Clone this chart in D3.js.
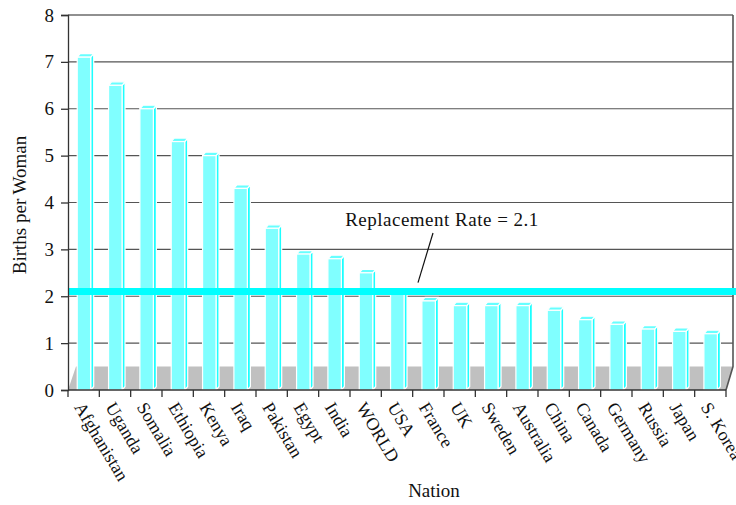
<!DOCTYPE html>
<html>
<head>
<meta charset="utf-8">
<script src="https://cdn.jsdelivr.net/npm/d3@7"></script>
<style>
  html, body { margin: 0; padding: 0; background: #fff; }
  svg { display: block; font-family: "Liberation Serif", "Times New Roman", serif; }
</style>
</head>
<body>
<svg id="chart" width="736" height="505"></svg>
<script>
// Total fertility rate by nation
const nations = ["Afghanistan", "Uganda", "Somalia", "Ethiopia", "Kenya", "Iraq", "Pakistan",
  "Egypt", "India", "WORLD", "USA", "France", "UK", "Sweden", "Australia", "China",
  "Canada", "Germany", "Russia", "Japan", "S. Korea"];
const births = [7.1, 6.5, 6.0, 5.3, 5.0, 4.3, 3.45, 2.9, 2.8, 2.5, 2.1, 1.9, 1.8, 1.8, 1.8, 1.7,
  1.5, 1.4, 1.3, 1.25, 1.2];
const yTicks = [0, 1, 2, 3, 4, 5, 6, 7, 8];
const replacementRate = 2.1;
const replacementLabel = "Replacement Rate = 2.1";
const xTitle = "Nation";
const yTitle = "Births per Woman";

const svg = d3.select("#chart");

// plot geometry: front plane, plus a shallow floor drawn in depth
const plotLeft = 68, plotRight = 726, plotTop = 15, plotBottom = 390;
const depthX = 7, floorValue = 0.5;   // floor recedes to the back wall
const wallRight = plotRight + depthX;

const x = d3.scaleBand().domain(nations).range([plotLeft, plotRight]).padding(0);
const y = d3.scaleLinear().domain([0, 8]).range([plotBottom, plotTop]);

const floorTop = y(floorValue);

// floor
svg.append("path")
  .attr("d", `M${plotLeft},${plotBottom} L${plotLeft + 8},${floorTop} L${wallRight},${floorTop} L${plotRight},${plotBottom} Z`)
  .attr("fill", "#c0c0c0");

// horizontal gridlines
svg.append("g")
  .selectAll("line")
  .data(yTicks.filter(t => t > 0))
  .join("line")
  .attr("x1", plotLeft).attr("x2", wallRight)
  .attr("y1", d => y(d)).attr("y2", d => y(d))
  .attr("stroke", d => d === 8 ? "#222" : "#555")
  .attr("stroke-width", 1.2);

// right wall edge
svg.append("path")
  .attr("d", `M${wallRight},${plotTop} L${wallRight},${floorTop} L${plotRight},${plotBottom}`)
  .attr("fill", "none")
  .attr("stroke", "#555")
  .attr("stroke-width", 1.6);

// 3D bars
const bw = x.bandwidth() * 0.43;
const off = (x.bandwidth() - bw) / 2 + 0.3;
const dx = 3, dy = 3.5;

const bars = svg.append("g")
  .selectAll("g")
  .data(nations.map((n, i) => ({ n, v: births[i] })))
  .join("g");

bars.append("path") // side face
  .attr("d", d => {
    const x1 = x(d.n) + off + bw, yt = y(d.v);
    return `M${x1},${yt} L${x1 + dx},${yt - dy} L${x1 + dx},${plotBottom - dy} L${x1},${plotBottom} Z`;
  })
  .attr("fill", "#1cffff")
  .attr("stroke", "#fff").attr("stroke-width", 1.2).attr("stroke-linejoin", "round");

bars.append("path") // top face
  .attr("d", d => {
    const x0 = x(d.n) + off, x1 = x0 + bw, yt = y(d.v);
    return `M${x0},${yt} L${x0 + dx},${yt - dy} L${x1 + dx},${yt - dy} L${x1},${yt} Z`;
  })
  .attr("fill", "#66ffff")
  .attr("stroke", "#fff").attr("stroke-width", 1.2).attr("stroke-linejoin", "round");

bars.append("rect") // front face
  .attr("x", d => x(d.n) + off)
  .attr("y", d => y(d.v))
  .attr("width", bw)
  .attr("height", d => plotBottom - y(d.v))
  .attr("fill", "#80ffff")
  .attr("stroke", "#fff").attr("stroke-width", 1.2);

// replacement rate line
svg.append("line")
  .attr("x1", plotLeft).attr("x2", 736)
  .attr("y1", y(replacementRate)).attr("y2", y(replacementRate))
  .attr("stroke", "#00ffff")
  .attr("stroke-width", 7);

// annotation
svg.append("line")
  .attr("x1", 418).attr("y1", y(replacementRate) - 9)
  .attr("x2", 433).attr("y2", 233)
  .attr("stroke", "#111").attr("stroke-width", 1.2);
svg.append("text")
  .attr("x", 442).attr("y", 226)
  .attr("text-anchor", "middle")
  .attr("font-size", 19)
  .attr("letter-spacing", 0.5)
  .attr("fill", "#111")
  .text(replacementLabel);

// y axis
const yAxis = d3.axisLeft(y).tickValues(yTicks).tickFormat(d3.format("d")).tickSize(7).tickPadding(7);
const gy = svg.append("g").attr("transform", `translate(${plotLeft},0)`).call(yAxis);
gy.select(".domain").attr("stroke", "#333").attr("stroke-width", 1.3);
gy.selectAll(".tick line").attr("stroke", "#333").attr("stroke-width", 1.3);
gy.selectAll(".tick text")
  .attr("font-family", "Liberation Serif, serif")
  .attr("font-size", 19).attr("fill", "#111");

// x axis line and category boundary ticks
svg.append("line")
  .attr("x1", plotLeft).attr("x2", plotRight)
  .attr("y1", plotBottom).attr("y2", plotBottom)
  .attr("stroke", "#333").attr("stroke-width", 1.3);
svg.append("g")
  .selectAll("line")
  .data(nations.map(n => x(n)).concat([plotRight]))
  .join("line")
  .attr("x1", d => d).attr("x2", d => d)
  .attr("y1", plotBottom).attr("y2", plotBottom + 7)
  .attr("stroke", "#333").attr("stroke-width", 1.3);

// rotated category labels
svg.append("g")
  .selectAll("text")
  .data(nations)
  .join("text")
  .attr("transform", d => `translate(${x(d) + x.bandwidth() / 2 - 10},${plotBottom + 17}) rotate(59)`)
  .attr("font-size", 18)
  .attr("fill", "#111")
  .text(d => d);

// axis titles
svg.append("text")
  .attr("x", 434).attr("y", 497)
  .attr("text-anchor", "middle")
  .attr("font-size", 19).attr("fill", "#111")
  .text(xTitle);
svg.append("text")
  .attr("transform", "translate(26,205) rotate(-90)")
  .attr("text-anchor", "middle")
  .attr("font-size", 19).attr("fill", "#111")
  .text(yTitle);
</script>
</body>
</html>
